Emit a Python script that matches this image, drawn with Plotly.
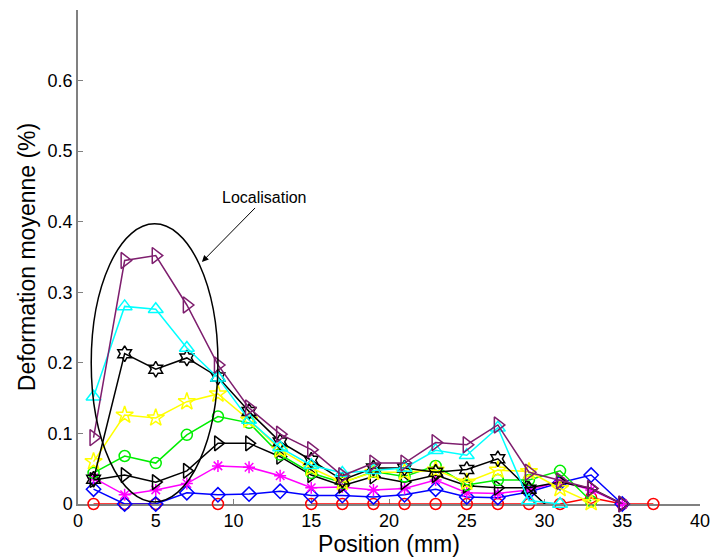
import plotly.graph_objects as go

positions = [1, 3, 5, 7, 9, 11, 13, 15, 17, 19, 21, 23, 25, 27, 29, 31, 33, 35, 37]

red_vals = [0, 0, 0, None, 0, None, None, 0, 0, 0, 0, 0, 0, 0, 0, 0, 0.009, 0, 0]
blue_vals = [0.021, 0.0, 0.0, 0.016, 0.013, 0.014, 0.018, 0.012, 0.012, 0.010, 0.013, 0.021, 0.010, 0.009, 0.017, 0.030, 0.041, 0.0, None]
magenta_vals = [0.037, 0.013, 0.020, 0.029, 0.054, 0.052, 0.040, 0.023, 0.024, 0.020, 0.022, 0.034, 0.016, 0.015, 0.020, 0.032, 0.020, 0.0, None]
blacktri_vals = [0.034, 0.041, 0.031, 0.047, 0.086, 0.086, 0.067, 0.041, 0.026, 0.039, 0.031, 0.041, 0.026, 0.023, 0.023, 0.031, 0.022, 0.0, None]
green_vals = [0.044, 0.068, 0.058, 0.098, 0.124, 0.115, 0.070, 0.044, 0.030, 0.046, 0.039, 0.054, 0.027, 0.034, 0.034, 0.047, 0.004, None, None]
yellow_vals = [0.060, 0.126, 0.122, 0.145, 0.156, 0.119, 0.077, 0.051, 0.031, 0.045, 0.045, 0.048, 0.031, 0.048, 0.046, 0.022, 0.002, None, None]
hex_vals = [0.035, 0.213, 0.191, 0.207, 0.180, 0.131, 0.088, 0.062, 0.034, 0.051, 0.051, 0.045, 0.049, 0.064, 0.021, -0.02, None, None, None]
cyan_vals = [0.152, 0.280, 0.276, 0.221, 0.179, 0.119, 0.080, 0.055, 0.044, 0.048, 0.051, 0.076, 0.069, 0.108, 0.005, 0.0, None, None, None]
purple_vals = [0.094, 0.345, 0.352, 0.282, 0.197, 0.136, 0.099, 0.077, 0.040, 0.058, 0.058, 0.087, 0.084, 0.112, 0.045, 0.033, 0.022, 0.0, None]

x_ticks = [0, 5, 10, 15, 20, 25, 30, 35, 40]
y_ticks = [0, 0.1, 0.2, 0.3, 0.4, 0.5, 0.6]
y_tick_labels = ["0", "0.1", "0.2", "0.3", "0.4", "0.5", "0.6"]

series = [
    (red_vals, "#ff0000", "circle-open", 11, False),
    (blue_vals, "#0000ff", "diamond-open", 11, False),
    (magenta_vals, "#ff00ff", "asterisk-open", 10, False),
    (blacktri_vals, "#000000", "triangle-right-open", 13, False),
    (green_vals, "#00ee00", "circle-open", 11, False),
    (yellow_vals, "#ffff00", "star-open", 13, False),
    (hex_vals, "#000000", "hexagram-open", 12, True),
    (cyan_vals, "#00ffff", "triangle-up-open", 13, False),
    (purple_vals, "#7e1e6e", "triangle-right-open", 14, False),
]

fig = go.Figure()
for vals, col, sym, sz, clip in series:
    fig.add_trace(go.Scatter(
        x=positions, y=vals, mode="lines+markers",
        line=dict(color=col, width=1.5),
        marker=dict(symbol=sym, size=sz, color=col, line=dict(color=col, width=1.5)),
        connectgaps=False, showlegend=False, cliponaxis=clip,
    ))

fig.add_shape(type="circle", xref="x", yref="y", x0=0.85, x1=9.0, y0=0.003, y1=0.397,
              line=dict(color="black", width=1.5))

fig.add_annotation(x=7.97, y=0.343, xref="x", yref="y", text="Localisation",
                   showarrow=True, ax=63, ay=-64, arrowhead=2, arrowsize=1.3,
                   arrowwidth=1, arrowcolor="black",
                   font=dict(family="Liberation Sans", size=16, color="black"))

axis_common = dict(showline=True, linecolor="#808080", linewidth=1.5, ticks="inside",
                   ticklen=5, tickcolor="#808080", showgrid=False, zeroline=False,
                   tickfont=dict(family="Liberation Sans", size=18, color="black"),
                   mirror=False, automargin=False, layer="below traces")

fig.update_layout(
    width=712, height=559,
    margin=dict(l=78, r=12, t=10, b=55),
    paper_bgcolor="white", plot_bgcolor="white",
    font=dict(family="Liberation Sans"),
    xaxis=dict(range=[0, 40], tickvals=x_ticks,
               title=dict(text="Position (mm)", font=dict(size=23, color="black"), standoff=0),
               **axis_common),
    yaxis=dict(range=[0, 0.7], tickvals=y_ticks, ticktext=y_tick_labels,
               title=dict(text="Deformation moyenne (%)", font=dict(size=23, color="black"), standoff=6),
               **axis_common),
)

fig.write_html("out.html", config={"displayModeBar": False},
               post_script="document.body.style.margin='0';document.body.style.overflow='hidden';")
